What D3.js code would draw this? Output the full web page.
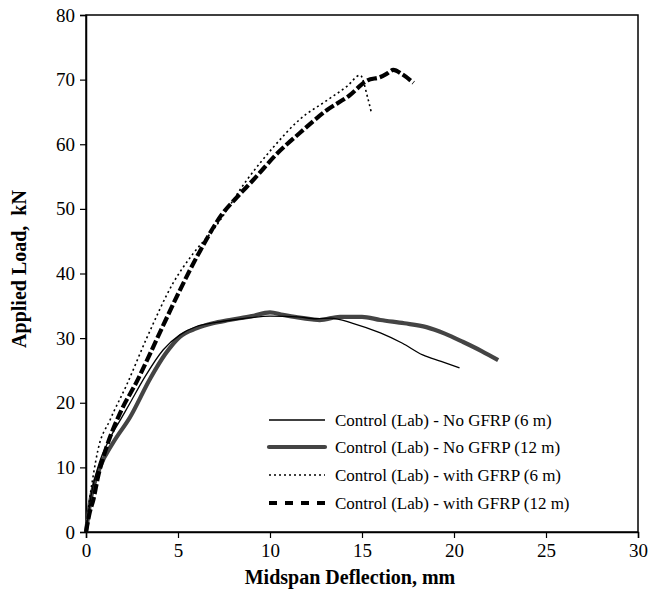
<!DOCTYPE html>
<html><head><meta charset="utf-8">
<script src="https://cdn.jsdelivr.net/npm/d3@7"></script>
<style>body{margin:0;background:#fff}svg{display:block}</style>
</head><body><div id="chart"></div>
<script>
const xTicks = [0,5,10,15,20,25,30];
const yTicks = [0,10,20,30,40,50,60,70,80];
const seriesNames = ["Control (Lab) - No GFRP (6 m)","Control (Lab) - No GFRP (12 m)","Control (Lab) - with GFRP (6 m)","Control (Lab) - with GFRP (12 m)"];

const noGfrp6X = [0,0.3,0.7,1.3,1.9,2.4,3.2,4.2,5.1,6.0,7.0,8.5,10.0,11.5,12.5,13.3,14.5,16.0,17.2,18.3,19.3,20.3];
const noGfrp6Y = [0,6,10.5,14.5,17.5,20,24,28.2,30.5,31.8,32.4,33.0,33.4,33.3,33.0,33.1,32.3,30.8,29.2,27.4,26.4,25.4];

const noGfrp12X = [0,0.22,0.76,1.47,2.4,3.5,4.3,5.1,6.0,6.9,7.8,9.0,10.0,10.7,11.5,12.3,12.7,13.8,15.0,16.0,17.3,18.5,19.5,20.5,21.5,22.4];
const noGfrp12Y = [0,4.5,10,13.8,17.8,23.8,27.5,30.2,31.5,32.3,32.8,33.4,34.0,33.6,33.2,32.9,32.8,33.3,33.3,32.8,32.3,31.7,30.7,29.4,28.0,26.6];

const gfrp6X = [0,0.15,0.38,0.65,1.3,2.2,3.3,4.73,5.8,6.9,8.75,10.2,11.6,13.1,14.2,14.9,15.3,15.5];
const gfrp6Y = [0,4,8.5,12.7,17.3,22.7,30,38.5,43,46.7,54.5,59.6,63.8,66.8,69,70.7,67.3,65];

const gfrp12X = [0,0.2,0.4,0.65,1.1,1.85,2.8,3.5,4.2,5.1,6.2,7.4,8.2,9.1,10.4,11.6,13.1,14.3,15.3,16.0,16.4,16.7,17.2,17.8];
const gfrp12Y = [0,3,5,8.5,13,18.4,23.5,27.7,32,37.4,43.5,49.2,51.8,54.5,58.6,61.7,65.3,67.5,69.9,70.4,71,71.5,70.8,69.5];

const W = 662, H = 600;
const m = {left:86, right:W-638, top:15, bottom:H-532};
const svg = d3.select("#chart").append("svg").attr("width",W).attr("height",H)
  .style("font-family","'Liberation Serif','Times New Roman',serif");

const x = d3.scaleLinear().domain([0,30]).range([m.left, W-m.right]);
const y = d3.scaleLinear().domain([0,80]).range([H-m.bottom, m.top]);

svg.append("rect").attr("x",x(0)).attr("y",y(80)).attr("width",x(30)-x(0)).attr("height",y(0)-y(80))
  .attr("fill","none").attr("stroke","#000").attr("stroke-width",1.5);

const xAxis = svg.append("g").attr("transform",`translate(0,${y(0)})`)
  .call(d3.axisBottom(x).tickValues(xTicks).tickSize(6).tickPadding(6).tickFormat(d3.format("d")));
const yAxis = svg.append("g").attr("transform",`translate(${x(0)},0)`)
  .call(d3.axisLeft(y).tickValues(yTicks).tickSize(6).tickPadding(5).tickFormat(d3.format("d")));
[xAxis,yAxis].forEach(a=>{
  a.select(".domain").attr("stroke","#000").attr("stroke-width",1.5);
  a.selectAll(".tick line").attr("stroke","#000").attr("stroke-width",1.2);
  a.selectAll(".tick text").attr("fill","#000").style("font-size","19px").style("font-family","'Liberation Serif',serif");
});

svg.append("text").attr("x",(x(0)+x(30))/2 - 12).attr("y",584).attr("text-anchor","middle")
  .style("font-size","20px").style("font-weight","bold").text("Midspan Deflection, mm");
svg.append("text").attr("transform",`translate(26,269) rotate(-90)`).attr("text-anchor","middle")
  .style("font-size","20px").style("font-weight","bold").style("white-space","pre").text("Applied Load,  kN");

const styles = [
  {stroke:"#000", width:1.3, dash:null},
  {stroke:"#444", width:4.2, dash:null},
  {stroke:"#000", width:1.6, dash:"2,3"},
  {stroke:"#000", width:4.2, dash:"10,3"}
];
const data = [
  noGfrp6X.map((d,i)=>[d,noGfrp6Y[i]]),
  noGfrp12X.map((d,i)=>[d,noGfrp12Y[i]]),
  gfrp6X.map((d,i)=>[d,gfrp6Y[i]]),
  gfrp12X.map((d,i)=>[d,gfrp12Y[i]])
];
const line = d3.line().x(d=>x(d[0])).y(d=>y(d[1])).curve(d3.curveMonotoneX);
[1,0,2,3].forEach(i=>{
  svg.append("path").datum(data[i]).attr("d",line).attr("fill","none")
    .attr("stroke",styles[i].stroke).attr("stroke-width",styles[i].width)
    .attr("stroke-dasharray",styles[i].dash).attr("stroke-linejoin","round");
});

const legY = [420,447,475,503];
seriesNames.forEach((n,i)=>{
  svg.append("line").attr("x1",269).attr("x2",325).attr("y1",legY[i]).attr("y2",legY[i])
    .attr("stroke",styles[i].stroke).attr("stroke-width",styles[i].width)
    .attr("stroke-dasharray",i===3?"8,8":styles[i].dash).attr("stroke-linecap",i===1?"round":"butt");
  svg.append("text").attr("x",335).attr("y",legY[i]+6).style("font-size","17px").text(n);
});
</script></body></html>
